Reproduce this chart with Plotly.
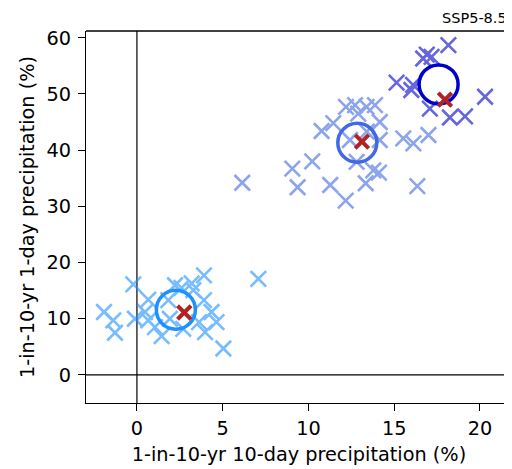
import plotly.graph_objects as go

# Near-term (dodgerblue) model points
g1_x = [-1.92, -1.38, -1.28, -0.21, -0.12, 0.47, 0.66, 0.66, 1.05, 1.44, 1.83, 1.92, 2.22, 2.6, 2.70,
        3.19, 3.29, 3.62, 3.91, 3.91, 3.97, 4.35, 4.64, 5.04, 7.08]
g1_y = [11.2, 9.7, 7.5, 16.1, 10.0, 11.2, 13.4, 9.7, 8.5, 6.9, 13.3, 10.0, 15.96, 15.5, 8.2,
        16.3, 15.1, 9.4, 17.7, 13.3, 7.6, 11.2, 9.4, 4.7, 17.1]
# Mid-term (royalblue) model points
g2_x = [6.14, 9.06, 10.22, 9.37, 11.27, 13.34, 12.17, 16.35, 14.11, 13.78, 12.81, 10.77, 11.45,
        12.19, 12.72, 13.39, 13.88, 14.16, 12.42, 14.16, 15.53, 16.12, 17.0, 13.4, 12.9]
g2_y = [34.2, 36.7, 38.0, 33.4, 33.8, 34.1, 31.0, 33.6, 36.0, 36.4, 37.9, 43.4, 44.8,
        47.7, 48.0, 47.7, 48.0, 45.0, 41.8, 41.8, 42.1, 41.2, 42.7, 43.3, 46.5]
# Long-term (mediumblue) model points
g3_x = [18.16, 16.69, 17.18, 16.9, 15.14, 16.1, 16.0, 17.08, 18.25, 19.13, 20.3]
g3_y = [58.7, 56.3, 56.6, 57.0, 52.0, 51.6, 50.7, 47.4, 45.8, 46.0, 49.5]

# Ensemble centres (circles) and red markers
centre_x = [2.27, 12.85, 17.59]
centre_y = [11.6, 41.3, 51.7]
red_x = [2.76, 13.12, 17.96]
red_y = [11.1, 41.5, 49.0]

colors = ["#1E90FF", "#4169E1", "#0000CD"]
title_text = "SSP5-8.5"
x_ticks = [0, 5, 10, 15, 20]
y_ticks = [0, 10, 20, 30, 40, 50, 60]

FONT = "DejaVu Sans"
FS = 19.3
fig = go.Figure()

for gx, gy, c in [(g1_x, g1_y, colors[0]), (g2_x, g2_y, colors[1]), (g3_x, g3_y, colors[2])]:
    fig.add_trace(go.Scatter(x=gx, y=gy, mode="markers", opacity=0.6,
                             marker=dict(symbol="x-thin-open", size=15.5, color=c,
                                         line=dict(width=2.6, color=c)),
                             showlegend=False, hoverinfo="skip"))

for i in range(3):
    fig.add_trace(go.Scatter(x=[centre_x[i]], y=[centre_y[i]], mode="markers",
                             marker=dict(symbol="circle-open", size=39, color=colors[i],
                                         line=dict(width=3.5, color=colors[i])),
                             showlegend=False, hoverinfo="skip"))
    fig.add_trace(go.Scatter(x=[red_x[i]], y=[red_y[i]], mode="markers",
                             marker=dict(symbol="x-thin-open", size=13.5, color="#B22222",
                                         line=dict(width=4, color="#B22222")),
                             showlegend=False, hoverinfo="skip"))

# zero lines
fig.add_shape(type="line", xref="x", yref="paper", x0=0, x1=0, y0=0, y1=1,
              line=dict(color="black", width=1.2), layer="below")
fig.add_shape(type="line", xref="paper", yref="y", x0=0, x1=1, y0=0, y1=0,
              line=dict(color="black", width=1.2), layer="below")
# top spine
fig.add_shape(type="line", xref="paper", yref="paper", x0=0, x1=1, y0=1, y1=1,
              line=dict(color="black", width=1.3))

fig.add_annotation(text=title_text, xref="paper", yref="paper", x=0.831, y=1,
                   xanchor="left", yanchor="bottom", yshift=3, showarrow=False,
                   font=dict(family=FONT, size=14.5, color="black"))

axis_common = dict(showgrid=False, zeroline=False, showline=True, linecolor="black",
                   linewidth=1.3, ticks="outside", ticklen=7, tickwidth=1.2,
                   tickcolor="black", mirror=False)
tick_font = dict(family=FONT, size=FS, color="black")

fig.update_layout(
    width=504, height=461,
    margin=dict(l=78, r=0, t=23, b=66),
    plot_bgcolor="white", paper_bgcolor="white",
    xaxis=dict(range=[-2.97, 21.87], tickvals=x_ticks, tickfont=tick_font,
               ticklabelstandoff=1,
               title=dict(text="1-in-10-yr 10-day precipitation (%)",
                          font=dict(family=FONT, size=FS, color="black"), standoff=8),
               **axis_common),
    yaxis=dict(range=[-5.0, 61.2], tickvals=y_ticks, tickfont=tick_font,
               ticklabelstandoff=3,
               title=dict(text="1-in-10-yr 1-day precipitation (%)",
                          font=dict(family=FONT, size=FS, color="black"), standoff=6),
               **axis_common),
)

fig.write_html("out.html")
